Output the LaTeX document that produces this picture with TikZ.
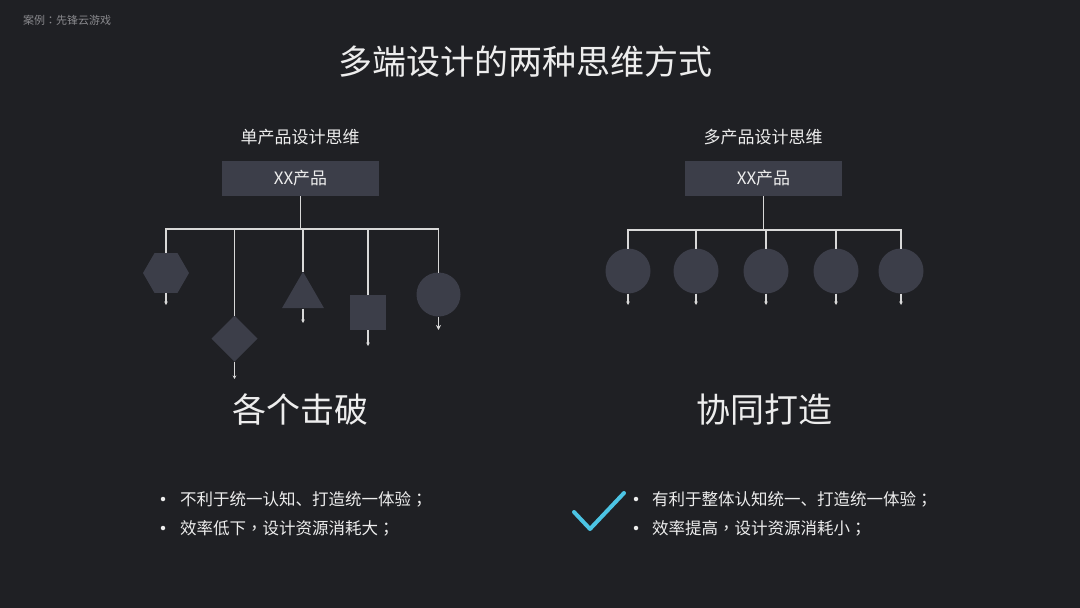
\documentclass[tikz,border=0pt]{standalone}
\usepackage{fontspec}
\setmainfont{Noto Sans CJK SC}
\newfontfamily\tcpunct{Noto Sans CJK TC}
\newcommand{\cp}[1]{{\tcpunct #1}}
\usetikzlibrary{shapes.geometric,arrows.meta}
\definecolor{bg}{HTML}{1F2024}
\definecolor{shape}{HTML}{3C3E49}
\definecolor{linec}{HTML}{D8D8D8}
\definecolor{txt}{HTML}{EDEDED}
\definecolor{graytxt}{HTML}{8A8A8E}
\definecolor{check}{HTML}{4CC4E4}
\tikzset{
  shp/.style={fill=shape, draw=none, inner sep=0pt, outer sep=0pt},
  prodbox/.style={fill=shape, draw=none, minimum width=157pt, minimum height=35pt, inner sep=0pt, text=txt, font=\fontsize{17}{20}\selectfont},
  link/.style={draw=linec, line width=1.4pt},
  tail/.style={draw=linec, line width=1.2pt, -{Stealth[length=3.5pt,width=3.5pt]}},
  lbl/.style={text=txt, inner sep=0pt},
  bullet/.style={text=txt, inner sep=0pt, anchor=west, font=\fontsize{16.5}{19}\selectfont},
  dot/.style={circle, fill=txt, inner sep=0pt, minimum size=4.5pt},
}
\begin{document}
\begin{tikzpicture}[x=1pt,y=-1pt]
\fill[bg] (0,0) rectangle (1080,608);
\useasboundingbox (0,0) rectangle (1080,608);

\node[lbl, text=graytxt, anchor=west, font=\fontsize{11}{13}\selectfont] (case) at (23,20) {案例\cp{：}先锋云游戏};
\node[lbl, font=\fontsize{34}{40}\selectfont] (title) at (525,62) {多端设计的两种思维方式};

% ---------- left ----------
\node[lbl, font=\fontsize{17}{20}\selectfont] (lsub) at (300,137) {单产品设计思维};
\node[prodbox] (lbox) at (300.5,178.5) {XX产品};
\coordinate (lbus) at (300.5,229);

\node[shp, regular polygon, regular polygon sides=6, minimum size=46pt] (hex) at (166,273) {};
\node[shp, diamond, minimum width=46pt, minimum height=46pt] (dia) at (234.5,338.5) {};
\node[shp, regular polygon, regular polygon sides=3, minimum size=48.5pt] (tri) at (303,296) {};
\node[shp, minimum width=36pt, minimum height=35pt] (sq) at (368,312.5) {};
\node[shp, circle, minimum size=44pt] (lcirc) at (438.5,294.5) {};

\draw[link] (lbox.south) -- (lbus);
\draw[link] (hex.north) -- (hex.north |- lbus) -- (lcirc.north |- lbus) -- (lcirc.north);
\draw[link] (dia.north) -- (dia.north |- lbus);
\draw[link] (tri.north) -- (tri.north |- lbus);
\draw[link] (sq.north) -- (sq.north |- lbus);

\coordinate (hexe) at (166,305);
\coordinate (diae) at (234.5,379);
\coordinate (trie) at (303,323);
\coordinate (sqe) at (368,346);
\coordinate (lcirce) at (438.5,330);
\draw[tail] (hex.south) -- (hexe);
\draw[tail] (dia.south) -- (diae);
\draw[tail] ([yshift=-0.5pt]tri.south) -- (trie);
\draw[tail] (sq.south) -- (sqe);
\draw[draw=linec, line width=1.6pt, -{Stealth[length=5pt,width=5pt]}] (lcirc.south) -- (lcirce);

\node[lbl, font=\fontsize{34}{40}\selectfont] (lhead) at (300,410) {各个击破};

\node[dot] (ld1) at (163,499) {};
\node[bullet] (lb1) at (180,499) {不利于统一认知、打造统一体验\cp{；}};
\node[dot] (ld2) at (163,528) {};
\node[bullet] (lb2) at (180,528) {效率低下\cp{，}设计资源消耗大\cp{；}};

% ---------- right ----------
\node[lbl, font=\fontsize{17}{20}\selectfont] (rsub) at (763,137) {多产品设计思维};
\node[prodbox] (rbox) at (763.5,178.5) {XX产品};
\coordinate (rbus) at (765,230);

\foreach \i/\x in {1/628,2/696,3/766,4/836,5/901}{
  \node[shp, circle, minimum size=45pt] (rc\i) at (\x,271) {};
  \coordinate (rce\i) at (\x,305);
  \draw[tail] (rc\i.south) -- (rce\i);
}
\draw[link] (rbox.south) -- (rbox.south |- rbus);
\draw[link] (rc1.north) -- (rc1.north |- rbus) -- (rc5.north |- rbus) -- (rc5.north);
\draw[link] (rc2.north) -- (rc2.north |- rbus);
\draw[link] (rc3.north) -- (rc3.north |- rbus);
\draw[link] (rc4.north) -- (rc4.north |- rbus);

\node[lbl, font=\fontsize{34}{40}\selectfont] (rhead) at (764,410) {协同打造};

\node[dot] (rd1) at (636,499) {};
\node[bullet] (rb1) at (652,499) {有利于整体认知统一、打造统一体验\cp{；}};
\node[dot] (rd2) at (636,528) {};
\node[bullet] (rb2) at (652,528) {效率提高\cp{，}设计资源消耗小\cp{；}};

\coordinate (ck1) at (574,512);
\coordinate (ck2) at (590,529);
\coordinate (ck3) at (624,493);
\draw[check, line width=4pt, line cap=round, line join=round] (ck1) -- (ck2) -- (ck3);
\end{tikzpicture}
\end{document}
